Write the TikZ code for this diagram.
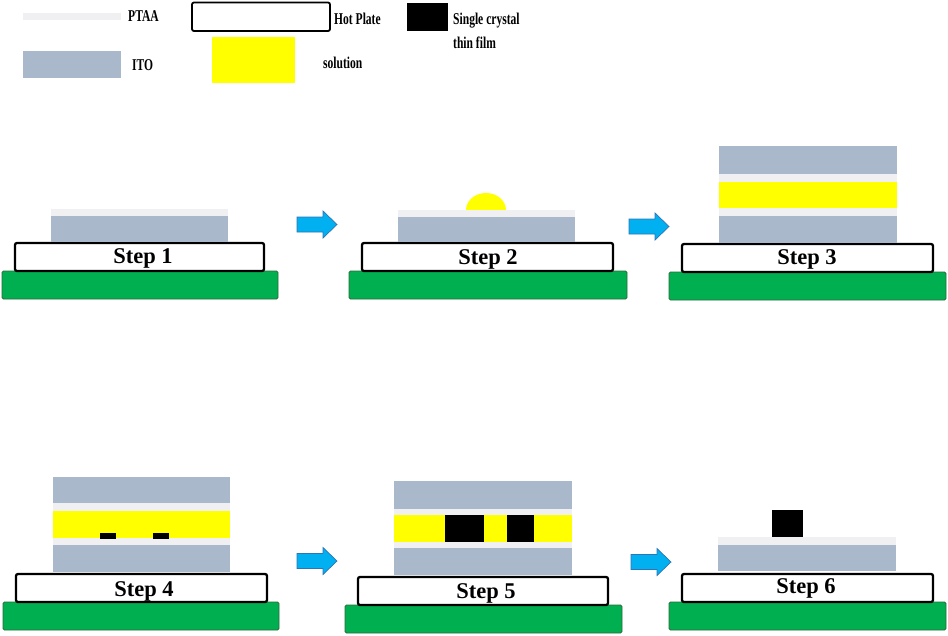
\documentclass[tikz,border=0pt]{standalone}
\usepackage{fontspec}
\setmainfont{Liberation Serif}
\definecolor{itoc}{HTML}{A9B8CB}
\definecolor{ptaac}{HTML}{F0F0F2}
\definecolor{solc}{HTML}{FFFF00}
\definecolor{basec}{HTML}{00B050}
\definecolor{basebd}{HTML}{2D6A3A}
\definecolor{arrc}{HTML}{00B0F0}
\definecolor{arrbd}{HTML}{2E75B6}
\tikzset{
  ito/.style={fill=itoc},
  ptaa/.style={fill=ptaac},
  sol/.style={fill=solc},
  crystal/.style={fill=black},
  hotplate/.style={draw=black, line width=2.3pt, fill=white, rounded corners=2pt},
  basebox/.style={fill=basec, draw=basebd, line width=0.8pt, rounded corners=1.5pt},
  steptxt/.style={font=\bfseries\fontsize{22.5}{24}\selectfont, anchor=base, inner sep=0pt},
  legtxt/.style={font=\bfseries\fontsize{16.5}{18}\selectfont, anchor=base west, inner sep=0pt},
  blockarrow/.pic={\filldraw[fill=arrc, draw=arrbd, line width=0.7pt]
     (0,-7.5) -- (26,-7.5) -- (26,-13.5) -- (40,0) -- (26,13.5) -- (26,7.5) -- (0,7.5) -- cycle;}
}
\newcommand{\lgt}[1]{\scalebox{0.7}[1]{#1}}
\begin{document}
\begin{tikzpicture}[x=1pt, y=-1pt]
\useasboundingbox (0,0) rectangle (948,635);
\fill[white] (0,0) rectangle (948,635);

% ---------- legend ----------
\fill[ptaa] (23,13) rectangle (121,20);
\node[legtxt] (lptaa) at (128,21.5) {\lgt{PTAA}};
\fill[ito] (23,51) rectangle (121,78);
\node[legtxt] (lito) at (132,70.5) {\lgt{ITO}};
\draw[hotplate, line width=1.8pt] (192,2.5) rectangle (330,31);
\node[legtxt] (lhot) at (334,24) {\lgt{Hot Plate}};
\fill[sol] (212,37) rectangle (295,83);
\node[legtxt] (lsol) at (323,68) {\lgt{solution}};
\fill[crystal] (407,3) rectangle (448,31);
\node[legtxt] (lsc1) at (453,24.5) {\lgt{Single crystal}};
\node[legtxt] (lsc2) at (453,48) {\lgt{thin film}};

% ---------- Step 1 ----------
\draw[basebox] (2,271) rectangle (278,299);
\draw[hotplate] (15,243) rectangle (264,271);
\fill[ptaa] (51,209) rectangle (228,216);
\fill[ito] (51,216) rectangle (228,242);
\node[steptxt] (s1) at (143,263) {Step 1};

\pic at (297,224.5) {blockarrow};

% ---------- Step 2 ----------
\draw[basebox] (349,271) rectangle (627,299);
\draw[hotplate] (362,243) rectangle (613,271);
\begin{scope}
  \clip (460,185) rectangle (512,210);
  \fill[sol] (486,210) ellipse [x radius=20, y radius=17];
\end{scope}
\fill[ptaa] (398,210) rectangle (575,217);
\fill[ito] (398,217) rectangle (575,242);
\node[steptxt] (s2) at (488,264) {Step 2};

\pic at (629,226.5) {blockarrow};

% ---------- Step 3 ----------
\draw[basebox] (669,272) rectangle (946,300);
\draw[hotplate] (682,244) rectangle (933,272);
\fill[ito] (719,146) rectangle (897,174);
\fill[ptaa] (719,174) rectangle (897,182);
\fill[sol] (719,182) rectangle (897,208);
\fill[ptaa] (719,208) rectangle (897,216);
\fill[ito] (719,216) rectangle (897,243);
\node[steptxt] (s3) at (807,264) {Step 3};

% ---------- Step 4 ----------
\draw[basebox] (3,602) rectangle (279,630);
\draw[hotplate] (16,574) rectangle (267,602);
\fill[ito] (53,477) rectangle (230,503);
\fill[ptaa] (53,503) rectangle (230,511);
\fill[sol] (53,511) rectangle (230,538);
\fill[ptaa] (53,538) rectangle (230,545);
\fill[ito] (53,545) rectangle (230,572);
\fill[crystal] (100,533) rectangle (116,539);
\fill[crystal] (153,533) rectangle (169,539);
\node[steptxt] (s4) at (144,596) {Step 4};

\pic at (297,561) {blockarrow};

% ---------- Step 5 ----------
\draw[basebox] (345,605) rectangle (622,633);
\draw[hotplate] (358,577) rectangle (608,605);
\fill[ito] (394,481) rectangle (572,509);
\fill[ptaa] (394,509) rectangle (572,515);
\fill[sol] (394,515) rectangle (572,542);
\fill[ptaa] (394,542) rectangle (572,548);
\fill[ito] (394,548) rectangle (572,575);
\fill[crystal] (445,515) rectangle (484,542);
\fill[crystal] (507,515) rectangle (534,542);
\node[steptxt] (s5) at (486,598) {Step 5};

\pic at (631,562) {blockarrow};

% ---------- Step 6 ----------
\draw[basebox] (669,602) rectangle (946,630);
\draw[hotplate] (682,574) rectangle (933,602);
\fill[crystal] (772,510) rectangle (803,537);
\fill[ptaa] (718,537) rectangle (896,545);
\fill[ito] (718,545) rectangle (896,571);
\node[steptxt] (s6) at (806,593) {Step 6};
\end{tikzpicture}
\end{document}
